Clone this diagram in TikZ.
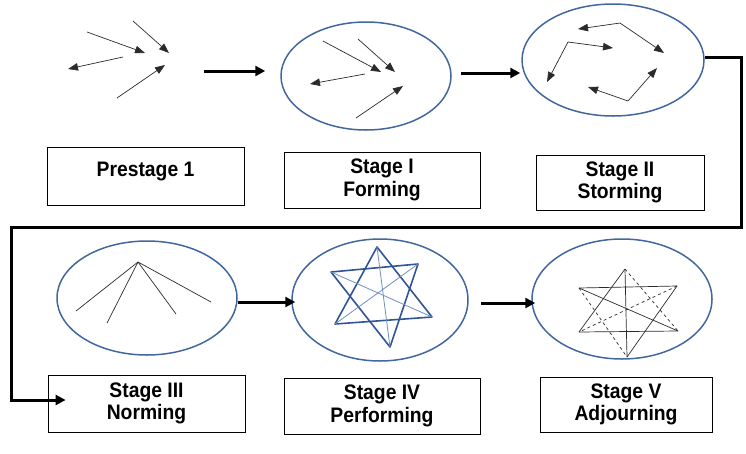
\documentclass[tikz,border=0pt]{standalone}
\usepackage{fontspec}
\setmainfont{Liberation Sans}
\newfontfamily\labelfont[FakeStretch=0.92]{Liberation Sans}
\usetikzlibrary{shapes.geometric, arrows.meta}
\definecolor{RingBlue}{HTML}{41679E}
\definecolor{StarBlue}{HTML}{2F5597}
\definecolor{PaleBlue}{HTML}{6F8FC0}
\definecolor{LineGray}{HTML}{2B2B2B}

\begin{document}
\begin{tikzpicture}[x=1pt, y=-1pt,
    stagebox/.style={draw, line width=0.8pt, align=center, inner sep=0pt,
        font=\labelfont\bfseries\fontsize{21}{22.5}\selectfont},
    phase/.style={draw=RingBlue, ellipse, line width=1.5pt, inner sep=0pt},
    flow/.style={line width=3pt, -{Triangle[length=10pt, width=10pt]}},
    move/.style={LineGray, line width=0.7pt, -{Triangle[length=10pt, width=7.5pt]}},
    tie/.style={LineGray, line width=0.7pt},
    star/.style={StarBlue, line width=1.6pt, line join=round},
    chord/.style={PaleBlue, line width=0.8pt}]
    \useasboundingbox (0,0) rectangle (746,453);

    % Ellipses
    \coordinate (pre) at (204,71);
    \node[phase, minimum width=170pt, minimum height=108pt] (forming) at (366,76) {};
    \node[phase, minimum width=182pt, minimum height=112pt] (storming) at (613,60) {};
    \node[phase, minimum width=180pt, minimum height=114pt] (norming) at (147,298) {};
    \node[phase, minimum width=176pt, minimum height=122pt] (performing) at (380,300) {};
    \node[phase, minimum width=180pt, minimum height=120pt] (adjourning) at (622,299) {};

    % Boxes
    \node[stagebox, minimum width=197pt, minimum height=58pt, text depth=13pt] (prebox) at (145.5,176) {Prestage 1};
    \node[stagebox, minimum width=196pt, minimum height=56pt] (formbox) at (382,180) {Stage I\\Forming};
    \node[stagebox, minimum width=168pt, minimum height=55pt] (stormbox) at (620,182.5) {Stage II\\Storming};
    \node[stagebox, minimum width=197pt, minimum height=57pt] (normbox) at (146.5,403.5) {Stage III\\Norming};
    \node[stagebox, minimum width=196pt, minimum height=56pt] (perfbox) at (382,406) {Stage IV\\Performing};
    \node[stagebox, minimum width=172pt, minimum height=55pt] (adjbox) at (626,404.5) {Stage V\\Adjourning};

    % Prestage: loose members
    \draw[move] (87,32) -- (145,53);
    \draw[move] (133,21) -- (169,53);
    \draw[move] (123,57) -- (68,69);
    \draw[move] (117,98) -- (165,65);

    % Forming
    \draw[move] (323,41) -- (381,72);
    \draw[move] (358,39) -- (395,72);
    \draw[move] (365,74) -- (310,84);
    \draw[move] (356,118) -- (403,86);

    % Storming
    \draw[move] (620,23) -- (578,29);
    \draw[move] (620,23) -- (664,53);
    \draw[move] (568,42) -- (613,48);
    \draw[move] (568,42) -- (547,82);
    \draw[move] (628,101) -- (657,68);
    \draw[move] (628,101) -- (588,87);

    % Norming
    \foreach \p in {(76,311), (107,323), (176,314), (211,302)}
        \draw[tie] (138,262) -- \p;

    % Performing
    \draw[star] (377,247) -- (335,324) -- (432,317) -- cycle;
    \draw[star] (331,272) -- (418,264) -- (390,347) -- cycle;
    \draw[chord] (377,247) -- (390,347);
    \draw[chord] (331,272) -- (432,317);
    \draw[chord] (418,264) -- (335,324);

    % Adjourning
    \draw[tie] (579,288) -- (677,286);
    \draw[tie] (579,332) -- (678,331);
    \draw[tie] (625,269) -- (579,332);
    \draw[tie] (625,269) -- (627,357);
    \draw[tie] (579,288) -- (678,331);
    \draw[tie] (677,286) -- (627,357);
    \draw[tie, dashed] (625,269) -- (678,331);
    \draw[tie, dashed] (579,288) -- (627,357);
    \draw[tie, dashed] (677,286) -- (579,332);

    % Arrows
    \draw[flow] (pre) -- ([xshift=-15pt, yshift=5pt]forming.west);
    \draw[flow] ([xshift=9pt, yshift=3pt]forming.east) -- ([xshift=-1pt, yshift=-13pt]storming.west);
    \draw[flow] ([yshift=3pt]storming.east) -| (741,227) -| (11,400) -- ([xshift=18pt, yshift=3.5pt]normbox.west);
    \draw[flow] ([yshift=-4pt]norming.east) -- ([xshift=4pt, yshift=-2pt]performing.west);
    \draw[flow] ([xshift=12pt, yshift=-3pt]performing.east) -- ([xshift=4pt, yshift=-4pt]adjourning.west);
\end{tikzpicture}
\end{document}
